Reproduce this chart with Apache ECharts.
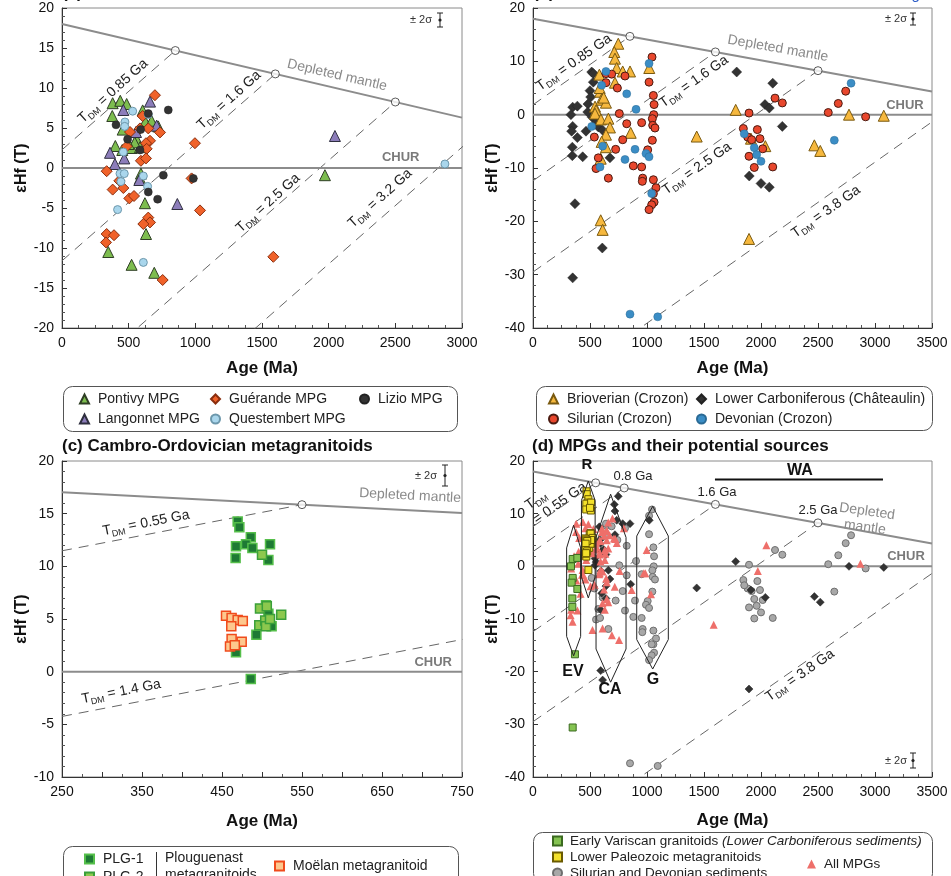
<!DOCTYPE html>
<html><head><meta charset="utf-8">
<script src="https://cdn.jsdelivr.net/npm/echarts@6/dist/echarts.min.js"></script>
<style>html,body{margin:0;padding:0;background:#fff}#c{width:951px;height:876px}</style>
</head><body><div id="c"></div>
<script>
// ---------------- DATA ----------------
// Panel (a) MPGs  [age Ma, eHf(T)]
const pontivy = [[380,8.1],[437,8.4],[485,8.0],[377,6.5],[605,7.2],[625,5.8],[672,5.9],[722,5.2],[455,4.8],[560,3.6],[400,2.75],[452,2.25],[522,2.5],[585,2.6],[545,3.2],[500,3.0],[592,-0.7],[585,-1.3],[622,-4.4],[630,-8.25],[347,-10.5],[522,-12.1],[692,-13.1],[1972,-0.9]];
const langonnet = [[660,8.3],[460,7.25],[555,4.5],[710,5.3],[360,1.9],[467,1.2],[397,0.5],[580,-1.5],[865,-4.5],[2047,4.0]];
const guerande = [[697,9.1],[605,6.5],[510,4.5],[585,4.95],[647,4.95],[735,4.45],[660,3.4],[630,3.1],[485,2.7],[635,2.4],[592,0.9],[630,1.2],[997,3.1],[335,-0.4],[430,-1.6],[380,-2.7],[460,-2.5],[505,-3.8],[540,-3.5],[972,-1.3],[1035,-5.3],[647,-6.2],[660,-6.8],[610,-7.0],[335,-8.25],[390,-8.4],[330,-9.3],[755,-14],[1585,-11.1]];
const lizio = [[797,7.25],[405,5.4],[647,6.8],[492,3.6],[585,2.25],[590,4.8],[760,-0.9],[985,-1.3],[647,-3.0],[717,-3.9]];
const questembert = [[530,7.1],[647,6.7],[472,5.75],[470,5.2],[460,2.0],[435,-0.7],[467,-0.7],[442,-1.7],[610,-1.0],[642,-2.3],[417,-5.2],[610,-11.8],[2872,0.5]];

// Panel (b) sediments
const brioverian = [[748,13.3],[713,11.75],[719,10.5],[582,7.5],[734,8.75],[787,8.1],[851,8.1],[719,6.0],[1020,8.75],[590,4.3],[585,5.0],[600,2.8],[640,2.25],[620,3.2],[544,1.5],[553,0.8],[544,0.2],[596,-0.9],[661,-0.75],[675,-2.4],[640,-3.75],[857,-3.4],[602,-5.1],[640,-6.1],[594,-8.25],[1436,-4.1],[1778,0.9],[1912,-4.5],[2038,-5.9],[594,-19.8],[611,-21.6],[1895,-23.3],[2468,-5.75],[2520,-6.8],[2772,0.0],[3077,-0.2]];
const silurian = [[640,7.7],[690,7.6],[807,7.25],[640,6.0],[740,5.0],[1018,6.1],[1044,10.8],[1056,3.6],[1062,1.9],[757,0.2],[1059,0],[1047,-0.75],[1050,-2],[1070,-2.5],[822,-1.7],[953,-1.5],[538,-4.2],[787,-4.7],[1047,-4.8],[725,-6.5],[1006,-6.6],[573,-8.1],[553,-10.1],[661,-11.9],[880,-9.6],[953,-9.8],[962,-11.9],[959,-12.5],[1056,-12.2],[1079,-13.7],[1056,-14.8],[1062,-16.4],[1041,-16.9],[1018,-17.8],[1895,0.3],[1845,-2.6],[1883,-4.2],[1918,-4.7],[1968,-2.8],[1991,-4.5],[2015,-6.4],[1895,-7.8],[1941,-9.9],[2103,-9.8],[2123,3.1],[2187,2.2],[2743,4.4],[2678,2.1],[2590,0.4],[2918,-0.4]];
const lowerCarb = [[515,8.0],[529,7.7],[529,6.1],[500,4.5],[506,3.3],[482,2.0],[348,1.4],[389,1.6],[333,0],[480,0.5],[520,-0.5],[559,-1.4],[573,-2.3],[348,-2.2],[339,-3.1],[389,-4.3],[465,-3.1],[611,-2.9],[345,-6.1],[345,-7.7],[436,-7.9],[675,-8.1],[368,-16.7],[608,-25],[348,-30.6],[1787,8.0],[2103,5.9],[2035,1.9],[2073,1.25],[2187,-2.2],[1897,-11.5],[2000,-12.9],[2073,-13.6]];
const devonian = [[640,8.1],[1018,9.6],[602,5.5],[822,3.9],[904,1.0],[515,-2.2],[611,-5.9],[895,-6.5],[807,-8.4],[991,-7.3],[1018,-7.9],[588,-9.8],[1041,-14.8],[1853,-3.6],[1941,-6.2],[1962,-7.5],[2000,-8.75],[851,-37.4],[1094,-37.9],[2790,5.9],[2643,-4.8]];

// Panel (c) Cambro-Ordovician metagranitoids
const plg1 = [[469.6,14.25],[471.7,13.7],[486,12.75],[480,12.1],[488,11.75],[467.5,11.9],[510,12.1],[467,10.8],[508,10.6],[493,3.5],[512,4.3],[508,5.5],[505,6.3],[467.5,1.85],[486,-0.7]];
const plg2 = [[500,11.1],[497.5,6.0],[506,6.2],[524,5.4],[496.6,4.4],[504,4.85],[505,4.3],[510,5.0]];
const moelan = [[455,5.3],[462,5.1],[469.6,4.9],[476,4.8],[461.6,4.3],[462,3.1],[474.6,2.85],[460,2.4],[466,2.5]];

// Panel (d) source envelopes (age, eHf)
const envEV = [[356,7.8],[295,3.5],[295,-13.3],[356,-17],[418,-13.3],[418,3.5],[356,7.8]];
const envR  = [[485,16.2],[425,12.5],[425,-2],[485,-6],[545,-2],[545,12.5],[485,16.2]];
const envCA = [[681,13.7],[553,5.5],[553,-15.7],[681,-22],[816,-15.7],[816,5.5],[681,13.7]];
const envG  = [[1050,11.4],[910,5.75],[910,-13.9],[1050,-19.5],[1187,-13.9],[1187,5.75],[1050,11.4]];

// Model reference lines
const DM0 = 18, DM_SLOPE = 0.0039;           // depleted mantle eHf at 0 Ma, decrease per Ma
const crustSlope = [0.0146, 0.0151, 0.0146, 0.0151];
const tdmA = [850, 1600, 2500, 3200];
const tdmB = [850, 1600, 2500, 3800];
const tdmC = [550, 1400];
const tdmD = [550, 800, 1600, 2500, 3800];
const dmMarksA = [850, 1600, 2500];
const dmMarksB = [850, 1600, 2500];
const dmMarksC = [550];
const dmMarksD = [550, 800, 1600, 2500];

// ---------------- CHART ----------------
const FONT = '"Liberation Sans", Arial, Helvetica, sans-serif';
const chart = echarts.init(document.getElementById('c'), null, {renderer:'canvas'});

const grids = [
  {left:62, top:8, width:400, height:320},
  {left:533, top:8, width:399, height:320},
  {left:62, top:461, width:400, height:316},
  {left:533, top:461, width:399, height:316}
].map(g => Object.assign({show:true, borderColor:'#8a8a8a', borderWidth:1, backgroundColor:'transparent'}, g));

const axCfg = [
  {x:[0,3000,500,4], y:[-20,20,5,5], xg:32},
  {x:[0,3500,500,4], y:[-40,20,10,5], xg:32},
  {x:[250,750,50,2], y:[-10,20,5,5], xg:36},
  {x:[0,3500,500,4], y:[-40,20,10,5], xg:35}
];
const xAxes = axCfg.map((c,i) => ({
  gridIndex:i, type:'value', min:c.x[0], max:c.x[1], interval:c.x[2],
  name:'Age (Ma)', nameLocation:'middle', nameGap:c.xg,
  nameTextStyle:{fontFamily:FONT, fontWeight:'bold', fontSize:17, color:'#111'},
  axisLine:{show:true, onZero:false, lineStyle:{color:'#333', width:1}},
  axisTick:{inside:true, length:5, lineStyle:{color:'#333'}},
  minorTick:{show:true, splitNumber:c.x[3], length:3, lineStyle:{color:'#555'}},
  splitLine:{show:false},
  axisLabel:{fontFamily:FONT, fontSize:14, color:'#111', margin:8,
    formatter: v => (i===2 ? (((v-250)%100===0) ? String(v) : '') : String(v))}
}));
const yAxes = axCfg.map((c,i) => ({
  gridIndex:i, type:'value', min:c.y[0], max:c.y[1], interval:c.y[2],
  name:'εHf (T)', nameLocation:'middle', nameGap:31, nameRotate:90,
  nameTextStyle:{fontFamily:FONT, fontWeight:'bold', fontSize:16, color:'#111'},
  axisLine:{show:true, onZero:false, lineStyle:{color:'#333', width:1}},
  axisTick:{inside:true, length:5, lineStyle:{color:'#333'}},
  minorTick:{show:true, splitNumber:c.y[3], length:3, lineStyle:{color:'#555'}},
  splitLine:{show:false},
  axisLabel:{fontFamily:FONT, fontSize:14, color:'#111', margin:8}
}));

const series = [];
function ln(g, data, color, width, type, z){
  series.push({type:'line', xAxisIndex:g, yAxisIndex:g, data, symbol:'none', showSymbol:false,
    lineStyle:{color, width, type}, z:z||2, silent:true, clip:true, animation:false});
}
function sc(g, name, data, symbol, size, color, border, bw, z){
  series.push({type:'scatter', name, xAxisIndex:g, yAxisIndex:g, data, symbol, symbolSize:size,
    itemStyle:{color, borderColor:border, borderWidth:bw, opacity:1}, z:z||4, silent:true, clip:true, animation:false});
}
const dm = t => DM0 - DM_SLOPE*t;
const xr = axCfg.map(c => c.x);
function refLines(g, tdms, marks){
  const [x0,x1] = xr[g];
  tdms.forEach(T => ln(g, [[x0, dm(T) - crustSlope[g]*(T-x0)], [T, dm(T)]], '#666', 1, [10,7], 2));
  ln(g, [[x0,0],[x1,0]], '#8c8c8c', 2, 'solid', 3);
  ln(g, [[x0,dm(x0)],[x1,dm(x1)]], '#8c8c8c', 2, 'solid', 3);
  series.push({type:'scatter', xAxisIndex:g, yAxisIndex:g, data:marks.map(t=>[t,dm(t)]), symbol:'circle', symbolSize:8,
    itemStyle:{color:'#fff', borderColor:'#333', borderWidth:1}, z:5, silent:true, animation:false});
}

// Panel a
refLines(0, tdmA, dmMarksA);
sc(0,'Pontivy MPG', pontivy,'triangle',11,'#7dbd4f','#2f3f25',1);
sc(0,'Langonnet MPG', langonnet,'triangle',11,'#8c7dba','#2f2f3f',1);
sc(0,'Guérande MPG', guerande,'diamond',11,'#f0622a','#8a2e0e',1);
sc(0,'Questembert MPG', questembert,'circle',8,'#a9d6ec','#6c97ab',1);
sc(0,'Lizio MPG', lizio,'circle',8,'#333','#222',0.5);
// Panel b
refLines(1, tdmB, dmMarksB);
sc(1,'Lower Carboniferous (Châteaulin)', lowerCarb,'diamond',10,'#333','#222',0.5);
sc(1,'Brioverian (Crozon)', brioverian,'triangle',11,'#f6b83e','#7a5a10',1);
sc(1,'Silurian (Crozon)', silurian,'circle',8,'#e8472d','#4a1a10',1);
sc(1,'Devonian (Crozon)', devonian,'circle',8,'#3b8dc5','#2a6a95',0.5);
// Panel c
refLines(2, tdmC, dmMarksC);
sc(2,'PLG-1', plg1,'rect',9,'#1e7a34','#55bf4a',1.5);
sc(2,'PLG-2', plg2,'rect',9,'#8cc84e','#3aa03a',1.5);
sc(2,'Moëlan metagranitoid', moelan,'rect',9,'#fdc88e','#f04b1c',1.5);
// Panel d
refLines(3, tdmD, dmMarksD);
[envEV, envR, envCA, envG].forEach(e => ln(3, e, '#222', 1, 'solid', 6));
const allMPG = [].concat(pontivy, langonnet, guerande, lizio, questembert);
const sedSD = [].concat(silurian, devonian);
const earlyVariscan = lowerCarb.filter(p => p[0] < 400);
const lowerPaleozoic = [].concat(plg1, plg2, moelan);
sc(3,'Silurian and Devonian sediments', sedSD,'circle',7,'#a8a8a8','#6e6e6e',1,4);
sc(3,'Brioverian sediments', brioverian,'diamond',8,'#333','#222',0.5,4);
sc(3,'All MPGs', allMPG,'triangle',8,'#ee6f6a','#ee6f6a',0,5);
sc(3,'Lower Paleozoic metagranitoids', lowerPaleozoic,'rect',7,'#f3e02a','#6a5a00',1,5);
sc(3,'Early Variscan granitoids', earlyVariscan,'rect',7,'#84c351','#3b6a20',1,5);

const lgBase = {orient:'vertical', itemWidth:9, itemHeight:9, selectedMode:false, height:120, padding:0,
  textStyle:{fontFamily:FONT, fontSize:14, color:'#222', padding:[0,0,0,4]}};
const legends = [
  Object.assign({}, lgBase, {left:79, top:392, itemGap:6, data:['Pontivy MPG','Langonnet MPG']}),
  Object.assign({}, lgBase, {left:210, top:392, itemGap:6, data:['Guérande MPG','Questembert MPG']}),
  Object.assign({}, lgBase, {left:359, top:392, itemGap:6, data:['Lizio MPG']}),
  Object.assign({}, lgBase, {left:548, top:392, itemGap:6, data:['Brioverian (Crozon)','Silurian (Crozon)']}),
  Object.assign({}, lgBase, {left:696, top:392, itemGap:6, data:['Lower Carboniferous (Châteaulin)','Devonian (Crozon)']}),
  Object.assign({}, lgBase, {left:84, top:852, itemGap:4, data:['PLG-1','PLG-2']}),
  Object.assign({}, lgBase, {left:274, top:859, itemGap:4, data:['Moëlan metagranitoid']}),
  Object.assign({}, lgBase, {left:552, top:834, itemGap:2, data:['Early Variscan granitoids','Lower Paleozoic metagranitoids','Silurian and Devonian sediments'],
    textStyle:{fontFamily:FONT, fontSize:13.5, color:'#222', padding:[0,0,0,3],
      rich:{i:{fontFamily:FONT, fontSize:13.5, fontStyle:'italic', color:'#222'}}},
    formatter: n => n==='Early Variscan granitoids' ? n + ' {i|(Lower Carboniferous sediments)}' : n}),
  Object.assign({}, lgBase, {left:807, top:857, itemGap:4, data:['All MPGs'], textStyle:{fontFamily:FONT, fontSize:13.5, color:'#222', padding:[0,0,0,3]}})
];

chart.setOption({
  animation:false,
  textStyle:{fontFamily:FONT},
  grid:grids, xAxis:xAxes, yAxis:yAxes, series, legend:legends
});

// ---------------- ANNOTATIONS ----------------
const P = (g, p) => chart.convertToPixel({xAxisIndex:g, yAxisIndex:g}, p);
const cv = document.createElement('canvas').getContext('2d');
const tw = (s, font) => { cv.font = font; return cv.measureText(s).width; };
const G = [];
const deg = d => d*Math.PI/180;

function tdmLabel(g, at, rest, rotDeg, size, twoLine){
  const [x,y] = P(g, at);
  const f = `${size}px ${FONT}`, fs = `${Math.round(size*0.62)}px ${FONT}`;
  const wT = tw('T', f), wD = tw('DM', fs);
  const children = [];
  if (!twoLine){
    const w = wT + wD + tw(rest, f); const x0 = -w/2;
    children.push({type:'text', x:x0, y:0, style:{text:'T', font:f, fill:'#222', align:'left', verticalAlign:'middle'}});
    children.push({type:'text', x:x0+wT, y:size*0.32, style:{text:'DM', font:fs, fill:'#222', align:'left', verticalAlign:'middle'}});
    children.push({type:'text', x:x0+wT+wD, y:0, style:{text:rest, font:f, fill:'#222', align:'left', verticalAlign:'middle'}});
  } else {
    const w2 = tw(rest, f);
    children.push({type:'text', x:-w2/2+2, y:-size*0.55, style:{text:'T', font:f, fill:'#222', align:'left', verticalAlign:'middle'}});
    children.push({type:'text', x:-w2/2+2+wT, y:-size*0.55+size*0.32, style:{text:'DM', font:fs, fill:'#222', align:'left', verticalAlign:'middle'}});
    children.push({type:'text', x:-w2/2, y:size*0.6, style:{text:rest, font:f, fill:'#222', align:'left', verticalAlign:'middle'}});
  }
  G.push({type:'group', x, y, rotation:deg(rotDeg), children, silent:true, z:20});
}
function txt(g, at, s, opt){
  const [x,y] = P(g, at);
  G.push({type:'text', x, y, rotation:deg(opt.rot||0), silent:true, z:20,
    style:{text:s, font:`${opt.bold?'bold ':''}${opt.italic?'italic ':''}${opt.size||14}px ${FONT}`, fill:opt.color||'#222',
      align:opt.align||'center', verticalAlign:'middle', lineHeight:opt.lh}});
}
function errBar(xPix, y0, y1, textX){
  const ym = (y0+y1)/2;
  G.push({type:'line', shape:{x1:xPix,y1:y0,x2:xPix,y2:y1}, style:{stroke:'#222', lineWidth:1}, silent:true});
  G.push({type:'line', shape:{x1:xPix-3,y1:y0,x2:xPix+3,y2:y0}, style:{stroke:'#222', lineWidth:1}, silent:true});
  G.push({type:'line', shape:{x1:xPix-3,y1:y1,x2:xPix+3,y2:y1}, style:{stroke:'#222', lineWidth:1}, silent:true});
  G.push({type:'circle', shape:{cx:xPix, cy:ym, r:1.6}, style:{fill:'#222'}, silent:true});
  G.push({type:'text', x:textX, y:ym, style:{text:'± 2σ', font:`11px ${FONT}`, fill:'#333', align:'right', verticalAlign:'middle'}, silent:true});
}

// Panel a
tdmLabel(0,[383,9.6],' = 0.85 Ga',42,14);
tdmLabel(0,[1253,8.5],' = 1.6 Ga',42,14);
tdmLabel(0,[1545,-4.4],' = 2.5 Ga',42,14);
tdmLabel(0,[2385,-3.8],' = 3.2 Ga',42,14);
txt(0,[2063,11.6],'Depleted mantle',{color:'#8a8a8a', size:14, rot:-13});
txt(0,[2540,1.3],'CHUR',{color:'#7a7a7a', size:13, bold:true});
errBar(440, 13, 27, 432);
// Panel b
tdmLabel(1,[360,9.8],' = 0.85 Ga',35,14);
tdmLabel(1,[1412,6.2],' = 1.6 Ga',35,14);
tdmLabel(1,[1439,-10.1],' = 2.5 Ga',35,14);
tdmLabel(1,[2570,-18.2],' = 3.8 Ga',35,14);
txt(1,[2149,12.4],'Depleted mantle',{color:'#8a8a8a', size:14, rot:-10});
txt(1,[3263,1.7],'CHUR',{color:'#7a7a7a', size:13, bold:true});
errBar(913, 13, 25, 907);
// Panel c
tdmLabel(2,[355,14.1],' = 0.55 Ga',11,14);
tdmLabel(2,[324,-1.9],' = 1.4 Ga',11,14);
txt(2,[685,16.7],'Depleted mantle',{color:'#8a8a8a', size:14, rot:-3});
txt(2,[714,0.9],'CHUR',{color:'#7a7a7a', size:13, bold:true});
errBar(445, 465, 486, 437);
// Panel d
tdmLabel(3,[193,13.3],'= 0.55 Ga',35,14,true);
tdmLabel(3,[2342,-20.7],' = 3.8 Ga',35,14);
txt(3,[474,19.2],'R',{bold:true, size:15, color:'#111'});
txt(3,[877,17.1],'0.8 Ga',{size:13});
txt(3,[1614,14.05],'1.6 Ga',{size:13});
txt(3,[2500,10.6],'2.5 Ga',{size:13});
txt(3,[2342,18.2],'WA',{bold:true, size:16, color:'#111'});
txt(3,[2921,8.9],'Depleted\nmantle',{color:'#8a8a8a', size:14, rot:-8, lh:16});
txt(3,[3272,1.8],'CHUR',{color:'#7a7a7a', size:13, bold:true});
txt(3,[351,-19.9],'EV',{bold:true, size:16, color:'#111'});
txt(3,[675,-23.4],'CA',{bold:true, size:16, color:'#111'});
txt(3,[1053,-21.6],'G',{bold:true, size:16, color:'#111'});
(function(){ const a = P(3,[1596,16.5]), b = P(3,[3070,16.5]);
  G.push({type:'line', shape:{x1:a[0],y1:a[1],x2:b[0],y2:b[1]}, style:{stroke:'#111', lineWidth:2}, silent:true}); })();
errBar(913, 753, 768, 907);

// Titles
G.push({type:'text', x:62, y:-7, style:{text:'(a)', font:`bold 17px ${FONT}`, fill:'#111', align:'left', verticalAlign:'middle'}, silent:true});
G.push({type:'text', x:533, y:-7, style:{text:'(b)', font:`bold 17px ${FONT}`, fill:'#111', align:'left', verticalAlign:'middle'}, silent:true});
G.push({type:'text', x:743, y:-5, style:{text:'Click here to download Figure', font:`15px ${FONT}`, fill:'#2a5bc7', align:'left', verticalAlign:'middle'}, silent:true});
G.push({type:'text', x:62, y:446, style:{text:'(c) Cambro-Ordovician metagranitoids', font:`bold 17px ${FONT}`, fill:'#111', align:'left', verticalAlign:'middle'}, silent:true});
G.push({type:'text', x:532, y:446, style:{text:'(d) MPGs and their potential sources', font:`bold 17px ${FONT}`, fill:'#111', align:'left', verticalAlign:'middle'}, silent:true});

// Legend frames
[[63,386,394,45],[536,386,396,44],[63,846,395,45],[533,832,399,50]].forEach(r =>
  G.push({type:'rect', shape:{x:r[0]+0.5,y:r[1]+0.5,width:r[2],height:r[3],r:9}, style:{fill:'none', stroke:'#555', lineWidth:1}, silent:true}));
G.push({type:'line', shape:{x1:156.5,y1:852,x2:156.5,y2:880}, style:{stroke:'#333', lineWidth:1}, silent:true});
G.push({type:'text', x:165, y:858, style:{text:'Plouguenast', font:`14px ${FONT}`, fill:'#222', align:'left', verticalAlign:'middle'}, silent:true});
G.push({type:'text', x:165, y:875, style:{text:'metagranitoids', font:`14px ${FONT}`, fill:'#222', align:'left', verticalAlign:'middle'}, silent:true});

chart.setOption({graphic:G});
</script></body></html>
